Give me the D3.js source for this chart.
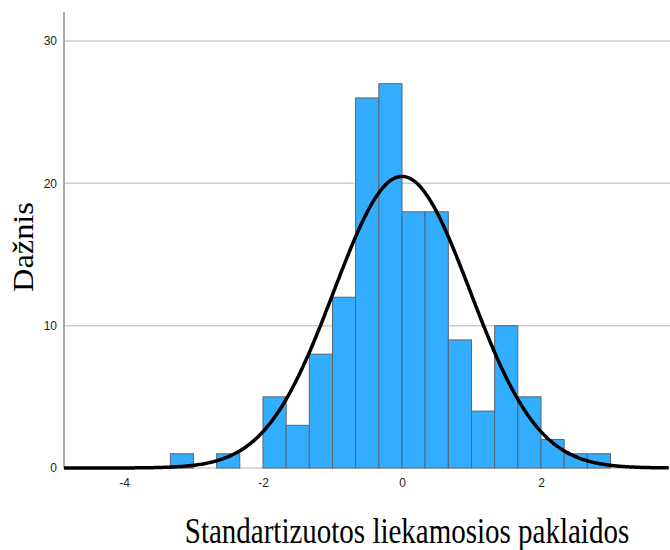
<!DOCTYPE html>
<html>
<head>
<meta charset="utf-8">
<script src="https://cdn.jsdelivr.net/npm/d3@7"></script>
<style>
  html, body { margin: 0; padding: 0; background: #fff; }
  svg { display: block; }
</style>
</head>
<body>
<svg id="chart" width="670" height="550"></svg>
<script>
// ---- data ----
const binStarts = [-3.333, -3.0, -2.667, -2.333, -2.0, -1.667, -1.333, -1.0, -0.667, -0.333,
                   0.0, 0.333, 0.667, 1.0, 1.333, 1.667, 2.0, 2.333, 2.667];
const counts    = [1, 0, 1, 0, 5, 3, 8, 12, 26, 27,
                   18, 18, 9, 4, 10, 5, 2, 1, 1];
const binWidth = [0.3333];
const normalFit = [0.0, 0.98];   // mean, standard deviation
const nObs = [151];
const xTicks = [-4, -2, 0, 2];
const yTicks = [0, 10, 20, 30];
const xTitle = "Standartizuotos liekamosios paklaidos";
const yTitle = "Dažnis";

// ---- layout ----
const svg = d3.select("#chart");
const mLeft = 64, mRight = 670, mTop = 12, mBottom = 468;

const x = d3.scaleLinear().domain([-4.863, 3.856]).range([mLeft, mRight]);
const y = d3.scaleLinear().domain([0, 32.04]).range([mBottom, mTop]);

// gridlines
svg.append("g").selectAll("line").data(yTicks).join("line")
  .attr("x1", mLeft).attr("x2", mRight)
  .attr("y1", d => y(d)).attr("y2", d => y(d))
  .attr("stroke", "#cdcdcd").attr("stroke-width", 1.5);

// y axis line
svg.append("line")
  .attr("x1", mLeft).attr("x2", mLeft).attr("y1", mTop).attr("y2", mBottom)
  .attr("stroke", "#8c8c8c").attr("stroke-width", 1.5);

// bars
const bins = binStarts.map((s, i) => ({ x0: s, x1: s + binWidth[0], n: counts[i] }))
  .filter(d => d.n > 0);
svg.append("g").selectAll("rect").data(bins).join("rect")
  .attr("x", d => x(d.x0))
  .attr("width", d => x(d.x1) - x(d.x0))
  .attr("y", d => y(d.n))
  .attr("height", d => y(0) - y(d.n))
  .attr("fill", "#33adff")
  .attr("stroke", "#5a6470")
  .attr("stroke-width", 1);

// normal curve
const [mu, sd] = normalFit;
const pdf = v => nObs[0] * binWidth[0] * Math.exp(-0.5 * ((v - mu) / sd) ** 2) / (sd * Math.sqrt(2 * Math.PI));
const xs = d3.range(x.domain()[0], x.domain()[1] + 0.001, 0.02);
svg.append("path")
  .datum(xs)
  .attr("d", d3.line().x(d => x(d)).y(d => y(pdf(d))).curve(d3.curveBasis))
  .attr("fill", "none")
  .attr("stroke", "#000")
  .attr("stroke-width", 3.5);

// y tick labels
const yAxis = d3.axisLeft(y).tickValues(yTicks).tickSize(0).tickPadding(7).tickFormat(d => String(d));
const gy = svg.append("g").attr("transform", `translate(${mLeft},0)`).call(yAxis);
gy.select(".domain").remove();
gy.selectAll("text").attr("font-family", "Arial, 'Liberation Sans', sans-serif")
  .attr("font-size", 12).attr("fill", "#222");

// x tick labels
const xAxis = d3.axisBottom(x).tickValues(xTicks).tickSize(0).tickPadding(10).tickFormat(d => String(d));
const gx = svg.append("g").attr("transform", `translate(0,${mBottom})`).call(xAxis);
gx.select(".domain").remove();
gx.selectAll("text").attr("font-family", "Arial, 'Liberation Sans', sans-serif")
  .attr("font-size", 12).attr("fill", "#222");

// titles
svg.append("text")
  .attr("transform", "translate(407,543) scale(1,1.22)")
  .attr("text-anchor", "middle")
  .attr("font-family", "'Liberation Serif', 'Times New Roman', serif")
  .attr("font-size", 29).attr("fill", "#000")
  .text(xTitle);

svg.append("text")
  .attr("transform", "translate(33,247) rotate(-90) scale(1.08,1)")
  .attr("text-anchor", "middle")
  .attr("font-family", "'Liberation Serif', 'Times New Roman', serif")
  .attr("font-size", 30).attr("fill", "#000")
  .text(yTitle);
</script>
</body>
</html>
